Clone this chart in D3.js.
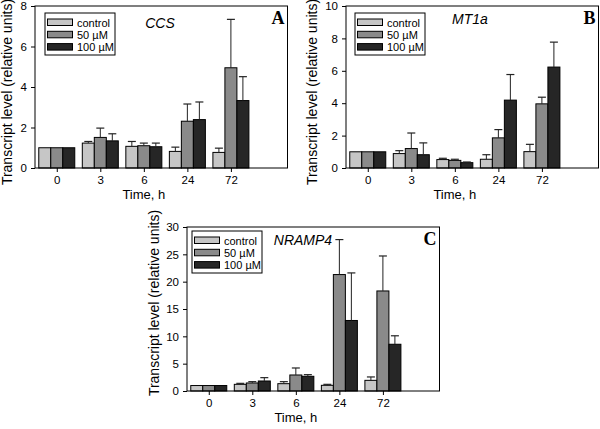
<!DOCTYPE html>
<html><head><meta charset="utf-8">
<script src="https://cdn.jsdelivr.net/npm/d3@7"></script>
<style>body{margin:0;background:#fff}svg{display:block}</style>
</head><body>
<svg id="chart" width="600" height="429"></svg>
<script>
const timePoints = ["0", "3", "6", "24", "72"];
const seriesNames = ["control", "50 µM", "100 µM"];
const seriesColors = ["#c6c6c6", "#8a8a8a", "#262626"];

// CCS
const ccsControl = [1, 1.23, 1.07, 0.82, 0.77];
const ccsControlErr = [1, 1.31, 1.31, 1.03, 0.98];
const ccs50 = [1, 1.51, 1.1, 2.31, 4.95];
const ccs50Err = [1, 1.97, 1.23, 3.16, 7.34];
const ccs100 = [1, 1.34, 1.05, 2.39, 3.33];
const ccs100Err = [1, 1.69, 1.23, 3.26, 4.51];
const ccsTicks = [0, 2, 4, 6, 8];

// MT1a
const mtControl = [1, 0.89, 0.52, 0.54, 1.01];
const mtControlErr = [1, 1.07, 0.6, 0.82, 1.46];
const mt50 = [1, 1.2, 0.47, 1.86, 3.96];
const mt50Err = [1, 2.16, 0.54, 2.37, 4.37];
const mt100 = [1, 0.82, 0.33, 4.19, 6.23];
const mt100Err = [1, 1.55, 0.37, 5.77, 7.77];
const mtTicks = [0, 2, 4, 6, 8, 10];

// NRAMP4
const nrControl = [1, 1.22, 1.34, 1.04, 1.95];
const nrControlErr = [1, 1.4, 1.71, 1.22, 2.57];
const nr50 = [1, 1.47, 2.93, 21.3, 18.3];
const nr50Err = [1, 1.71, 4.21, 27.7, 24.7];
const nr100 = [1, 1.83, 2.69, 12.9, 8.55];
const nr100Err = [1, 2.44, 2.99, 21.6, 10.1];
const nrTicks = [0, 5, 10, 15, 20, 25, 30];

const svg = d3.select("#chart");
const FONT = "'Liberation Sans', Arial, sans-serif";

function drawPanel(p) {
  const g = svg.append("g");
  const x = d3.scaleLinear().domain([-0.5, 5.3]).range([p.left, p.right]);
  const y = d3.scaleLinear().domain([0, p.ymax]).range([p.bottom, p.top]);
  const barW = 12;
  const offsets = [-1, 0, 1];

  // bars
  p.values.forEach((vals, s) => {
    vals.forEach((v, i) => {
      const cx = x(i) + offsets[s] * barW;
      g.append("rect")
        .attr("x", cx - barW / 2).attr("y", y(v))
        .attr("width", barW).attr("height", y(0) - y(v))
        .attr("fill", seriesColors[s]).attr("stroke", "#000").attr("stroke-width", 1);
      const e = p.errs[s][i];
      if (e > v + 0.001) {
        g.append("line").attr("x1", cx).attr("x2", cx).attr("y1", y(v)).attr("y2", y(e))
          .attr("stroke", "#222").attr("stroke-width", 1);
        g.append("line").attr("x1", cx - 4).attr("x2", cx + 4).attr("y1", y(e)).attr("y2", y(e))
          .attr("stroke", "#222").attr("stroke-width", 1.2);
      }
    });
  });

  // frame
  g.append("rect").attr("x", p.left).attr("y", p.top)
    .attr("width", p.right - p.left).attr("height", p.bottom - p.top)
    .attr("fill", "none").attr("stroke", "#000").attr("stroke-width", 1);

  // axes
  const yAxis = d3.axisLeft(y).tickValues(p.ticks).tickSize(4).tickPadding(4);
  const ya = g.append("g").attr("transform", `translate(${p.left},0)`).call(yAxis);
  const xAxis = d3.axisBottom(x).tickValues(d3.range(timePoints.length))
    .tickFormat(i => timePoints[i]).tickSize(4).tickPadding(4);
  const xa = g.append("g").attr("transform", `translate(0,${p.bottom})`).call(xAxis);
  [ya, xa].forEach(a => {
    a.select(".domain").remove();
    a.selectAll("text").attr("font-family", FONT).attr("font-size", 11.5).attr("fill", "#000");
    a.selectAll("line").attr("stroke", "#000");
  });

  // axis titles
  g.append("text").attr("x", x(2)).attr("y", p.bottom + 31)
    .attr("text-anchor", "middle").attr("font-family", FONT).attr("font-size", 13)
    .text("Time, h");
  g.append("text")
    .attr("transform", `translate(${p.titleX},${p.titleY}) rotate(-90)`)
    .attr("text-anchor", "middle").attr("font-family", FONT).attr("font-size", 14)
    .text("Transcript level (relative units)");

  // legend
  const lx = p.legX, ly = p.legY;
  g.append("rect").attr("x", lx).attr("y", ly).attr("width", 70).attr("height", 42)
    .attr("fill", "#fff").attr("stroke", "#000").attr("stroke-width", 1);
  seriesNames.forEach((n, s) => {
    const yy = ly + 6 + s * 12.3;
    g.append("rect").attr("x", lx + 2.5).attr("y", yy).attr("width", 25).attr("height", 6.5)
      .attr("fill", seriesColors[s]).attr("stroke", "#000").attr("stroke-width", 1);
    g.append("text").attr("x", lx + 32).attr("y", yy + 7.5)
      .attr("font-family", FONT).attr("font-size", 11).text(n);
  });

  // gene name
  g.append("text").attr("x", p.geneX).attr("y", p.geneY).attr("text-anchor", "middle")
    .attr("font-family", FONT).attr("font-style", "italic").attr("font-size", 14).text(p.gene);
  // panel letter
  g.append("text").attr("x", p.right - 3).attr("y", p.top + 18).attr("text-anchor", "end")
    .attr("font-family", "'Liberation Serif', 'Times New Roman', serif").attr("font-weight", "bold")
    .attr("font-size", 18).text(p.letter);
}

drawPanel({left: 35, right: 287.5, top: 6, bottom: 168, ymax: 8, ticks: ccsTicks,
  values: [ccsControl, ccs50, ccs100], errs: [ccsControlErr, ccs50Err, ccs100Err],
  titleX: 12, titleY: 92,
  legX: 45, legY: 13, gene: "CCS", geneX: 160, geneY: 28, letter: "A"});
drawPanel({left: 346, right: 598.5, top: 6, bottom: 168, ymax: 10, ticks: mtTicks,
  values: [mtControl, mt50, mt100], errs: [mtControlErr, mt50Err, mt100Err],
  titleX: 317, titleY: 92,
  legX: 355, legY: 13, gene: "MT1a", geneX: 470, geneY: 24, letter: "B"});
drawPanel({left: 187, right: 439.5, top: 227, bottom: 391, ymax: 30, ticks: nrTicks,
  values: [nrControl, nr50, nr100], errs: [nrControlErr, nr50Err, nr100Err],
  titleX: 159, titleY: 303,
  legX: 192, legY: 231, gene: "NRAMP4", geneX: 303, geneY: 245, letter: "C"});
</script>
</body></html>
